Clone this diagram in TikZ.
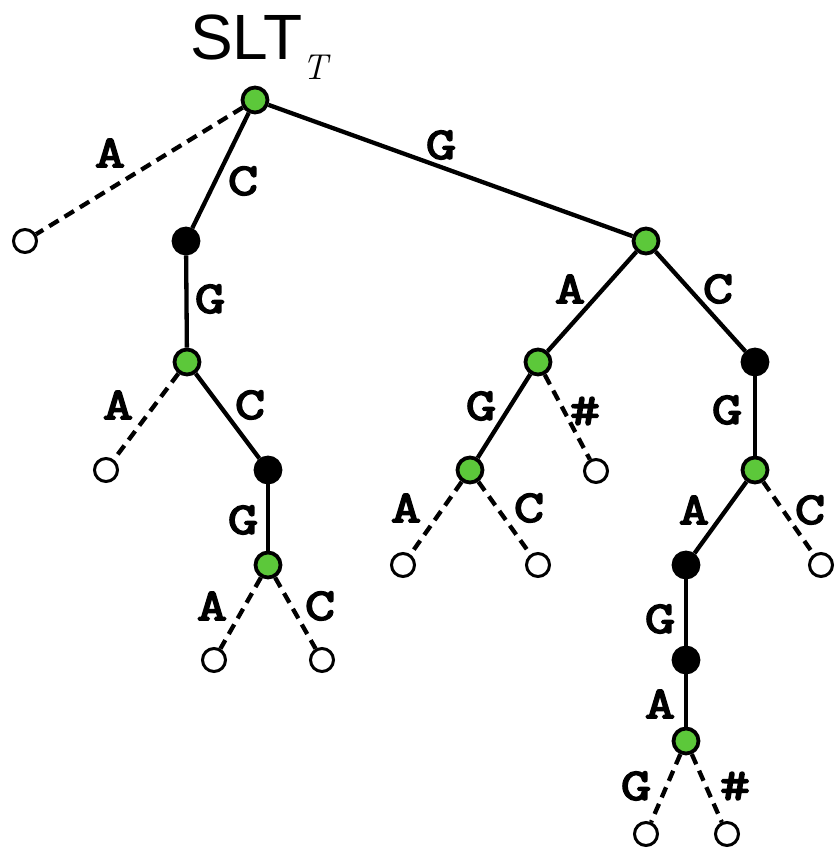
\documentclass[tikz,border=0pt]{standalone}
\usepackage{fontspec}
\setmainfont{Liberation Sans}
\newfontfamily\lblfont[FakeBold=4,FakeStretch=1.3]{Latin Modern Mono}
\newfontfamily\subfont{Latin Modern Roman}
\definecolor{nodegreen}{RGB}{92,200,58}
\begin{document}
\begin{tikzpicture}[x=1pt,y=-1pt,
  gnode/.style={circle,draw=black,line width=3.8pt,fill=nodegreen,minimum size=25pt,inner sep=0pt},
  bnode/.style={circle,draw=black,line width=3.8pt,fill=black,minimum size=25pt,inner sep=0pt},
  wnode/.style={circle,draw=black,line width=3pt,fill=white,minimum size=23pt,inner sep=0pt},
  solid edge/.style={line width=4.3pt},
  dash edge/.style={line width=4.3pt,dash pattern=on 11pt off 7pt},
  lbl/.style={font=\lblfont\fontsize{45}{45}\selectfont,inner sep=0pt}]
\useasboundingbox (0,0) rectangle (839,848);
\node[font=\fontsize{64}{64}\selectfont,inner sep=0pt,anchor=base west] (title) at (190,60) {SLT\raisebox{-20pt}{\subfont\itshape\fontsize{36}{36}\selectfont T}};
% nodes
\node[gnode] (r) at (255,100) {};
\node[wnode] (l1) at (25,241) {};
\node[bnode] (n1) at (186,241) {};
\node[gnode] (n2) at (187,362) {};
\node[wnode] (l2) at (106,470) {};
\node[bnode] (n3) at (268,470) {};
\node[gnode] (n4) at (268,565) {};
\node[wnode] (l3) at (214,660) {};
\node[wnode] (l4) at (322,660) {};
\node[gnode] (n5) at (646,241) {};
\node[gnode] (n6) at (538,362) {};
\node[bnode] (n7) at (755,362) {};
\node[gnode] (n8) at (470,470) {};
\node[wnode] (l5) at (596,471) {};
\node[wnode] (l6) at (403,565) {};
\node[wnode] (l7) at (538,565) {};
\node[gnode] (n9) at (755,470) {};
\node[wnode] (l8) at (821,565) {};
\node[bnode] (n10) at (686,565) {};
\node[bnode] (n11) at (686,660) {};
\node[gnode] (n12) at (686,741) {};
\node[wnode] (l9) at (646,834) {};
\node[wnode] (l10) at (727,834) {};
% edges
\draw[dash edge] (r) -- (l1);
\draw[solid edge] (r) -- (n1);
\draw[solid edge] (n1) -- (n2);
\draw[dash edge] (n2) -- (l2);
\draw[solid edge] (n2) -- (n3);
\draw[solid edge] (n3) -- (n4);
\draw[dash edge] (n4) -- (l3);
\draw[dash edge] (n4) -- (l4);
\draw[solid edge] (r) -- (n5);
\draw[solid edge] (n5) -- (n6);
\draw[solid edge] (n5) -- (n7);
\draw[solid edge] (n6) -- (n8);
\draw[dash edge] (n6) -- (l5);
\draw[dash edge] (n8) -- (l6);
\draw[dash edge] (n8) -- (l7);
\draw[solid edge] (n7) -- (n9);
\draw[dash edge] (n9) -- (l8);
\draw[solid edge] (n9) -- (n10);
\draw[solid edge] (n10) -- (n11);
\draw[solid edge] (n11) -- (n12);
\draw[dash edge] (n12) -- (l9);
\draw[dash edge] (n12) -- (l10);
% labels
\node[lbl] (tA1) at (110,153) {A};
\node[lbl] (tC1) at (243,181) {C};
\node[lbl] (tG1) at (441,145) {G};
\node[lbl] (tG2) at (210,299) {G};
\node[lbl] (tA2) at (118,405) {A};
\node[lbl] (tC2) at (250,405) {C};
\node[lbl] (tG3) at (243,520) {G};
\node[lbl] (tA3) at (212,606) {A};
\node[lbl] (tC3) at (320,606) {C};
\node[lbl] (tA4) at (570,289) {A};
\node[lbl] (tC4) at (718,289) {C};
\node[lbl] (tG4) at (481,406) {G};
\node[lbl] (tH1) at (585,411) {\#};
\node[lbl] (tA5) at (406,508) {A};
\node[lbl] (tC5) at (529,508) {C};
\node[lbl] (tG5) at (727,410) {G};
\node[lbl] (tA6) at (694,510) {A};
\node[lbl] (tC6) at (810,510) {C};
\node[lbl] (tG6) at (660,619) {G};
\node[lbl] (tA7) at (660,704) {A};
\node[lbl] (tG7) at (636,786) {G};
\node[lbl] (tH2) at (735,786) {\#};
\end{tikzpicture}
\end{document}
